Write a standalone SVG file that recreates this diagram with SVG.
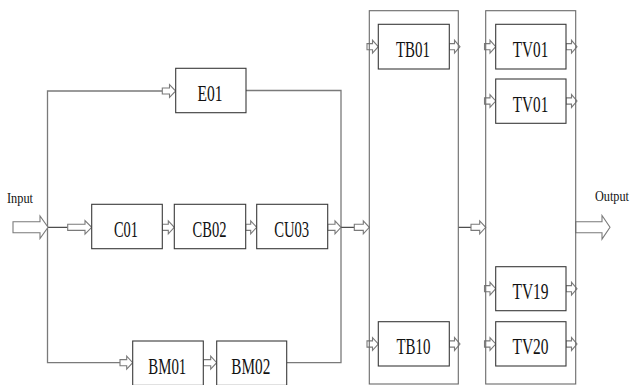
<svg xmlns="http://www.w3.org/2000/svg" width="633" height="385" viewBox="0 0 633 385">
<style>
.box{fill:#fff;stroke:#3a3a3a;stroke-width:1.1}
.cont{fill:none;stroke:#6a6a6a;stroke-width:1.1}
.lbl{font-family:"Liberation Serif","Times New Roman",serif;font-size:23px;fill:#111;text-anchor:middle}
.io{font-family:"Liberation Serif","Times New Roman",serif;font-size:14px;fill:#111}
.line{fill:none;stroke:#7a7a7a;stroke-width:1.3}
.dline{fill:none;stroke:#222;stroke-width:1}
.arr{fill:#fff;stroke:#7a7a7a;stroke-width:1.1;stroke-linejoin:miter}
</style>
<g id="connectors">
<path class="line" d="M162,91 H47.5 V362.7 H120"/>
<path class="line" d="M246,90.5 H341 V362.7 H286.7"/>
<path class="dline" d="M48,227.3 H67.7"/>
<path class="dline" d="M341,227.3 H354.3"/>
<path class="dline" d="M458.3,227.3 H471"/>
<path class="arr" d="M13,221.8 H40 V216 L48,227.3 L40,238.6 V232.8 H13 Z"/>
<path class="arr" d="M575.7,221.8 H602 V215.5 L610,227.3 L602,239.1 V232.8 H575.7 Z"/>
<path class="arr" d="M162.3,88 H169.5 V84.5 L175.7,91 L169.5,97.5 V94 H162.3 Z"/>
<path class="arr" d="M67.7,224.2 H85 V220.5 L91.7,227.3 L85,234.1 V230.4 H67.7 Z"/>
<path class="arr" d="M162.3,224.2 H168.3 V220.8 L174.3,227.3 L168.3,233.8 V230.4 H162.3 Z"/>
<path class="arr" d="M245.7,224.2 H250.7 V220.8 L256.7,227.3 L250.7,233.8 V230.4 H245.7 Z"/>
<path class="arr" d="M327.7,224.2 H335 V220.8 L341,227.3 L335,233.8 V230.4 H327.7 Z"/>
<path class="arr" d="M354.3,224.2 H363.3 V220.8 L369.3,227.3 L363.3,233.8 V230.4 H354.3 Z"/>
<path class="arr" d="M471,224.2 H479.7 V220.8 L485.7,227.3 L479.7,233.8 V230.4 H471 Z"/>
<path class="arr" d="M120,359.6 H126.7 V356.2 L132.7,362.7 L126.7,369.2 V365.8 H120 Z"/>
<path class="arr" d="M203.3,359.6 H210.7 V356.2 L216.7,362.7 L210.7,369.2 V365.8 H203.3 Z"/>
<path class="arr" d="M367,43.6 H372.5 V40.3 L378.3,46.7 L372.5,53.1 V49.8 H367 Z"/>
<path class="arr" d="M449.3,43.6 H454.5 V40.3 L460,46.7 L454.5,53.1 V49.8 H449.3 Z"/>
<path class="arr" d="M367,340.9 H372.5 V337.6 L378.3,344 L372.5,350.4 V347.1 H367 Z"/>
<path class="arr" d="M449.3,340.9 H454.5 V337.6 L460,344 L454.5,350.4 V347.1 H449.3 Z"/>
<path class="arr" d="M484.5,43.6 H490 V40.3 L495.7,46.7 L490,53.1 V49.8 H484.5 Z"/>
<path class="arr" d="M566,43.6 H571.5 V40.3 L577,46.7 L571.5,53.1 V49.8 H566 Z"/>
<path class="arr" d="M484.5,97.9 H490 V94.6 L495.7,101 L490,107.4 V104.1 H484.5 Z"/>
<path class="arr" d="M566,97.9 H571.5 V94.6 L577,101 L571.5,107.4 V104.1 H566 Z"/>
<path class="arr" d="M484.5,285.6 H490 V282.3 L495.7,288.7 L490,295.1 V291.8 H484.5 Z"/>
<path class="arr" d="M566,285.6 H571.5 V282.3 L577,288.7 L571.5,295.1 V291.8 H566 Z"/>
<path class="arr" d="M484.5,340.9 H490 V337.6 L495.7,344 L490,350.4 V347.1 H484.5 Z"/>
<path class="arr" d="M566,340.9 H571.5 V337.6 L577,344 L571.5,350.4 V347.1 H566 Z"/>
</g>
<g id="TBgroup"><rect class="cont" x="369.3" y="10.7" width="89" height="373.3"/></g>
<g id="TVgroup"><rect class="cont" x="485.7" y="10.7" width="90" height="373.3"/></g>
<g id="input"><text class="io" x="7" y="203" textLength="26" lengthAdjust="spacingAndGlyphs">Input</text></g>
<g id="output"><text class="io" x="595" y="200.5" font-size="13" textLength="34" lengthAdjust="spacingAndGlyphs">Output</text></g>
<g id="E01"><rect class="box" x="175.7" y="68.3" width="70.3" height="44.4"/><text class="lbl" x="210" y="101.3" textLength="25" lengthAdjust="spacingAndGlyphs">E01</text></g>
<g id="C01"><rect class="box" x="91.7" y="204.3" width="70.6" height="44.4"/><text class="lbl" x="126" y="237.3" textLength="24" lengthAdjust="spacingAndGlyphs">C01</text></g>
<g id="CB02"><rect class="box" x="174.3" y="204.3" width="71.4" height="44.4"/><text class="lbl" x="209.5" y="237.3" textLength="34" lengthAdjust="spacingAndGlyphs">CB02</text></g>
<g id="CU03"><rect class="box" x="256.7" y="204.3" width="71" height="44.4"/><text class="lbl" x="291.7" y="237.3" textLength="35" lengthAdjust="spacingAndGlyphs">CU03</text></g>
<g id="BM01"><rect class="box" x="132.7" y="341" width="70.6" height="44.4"/><text class="lbl" x="167.3" y="373.8" textLength="38" lengthAdjust="spacingAndGlyphs">BM01</text></g>
<g id="BM02"><rect class="box" x="216.7" y="341" width="70" height="44.4"/><text class="lbl" x="250.8" y="373.8" textLength="39" lengthAdjust="spacingAndGlyphs">BM02</text></g>
<g id="TB01"><rect class="box" x="378.3" y="24.3" width="71" height="44.7"/><text class="lbl" x="413" y="57" textLength="34" lengthAdjust="spacingAndGlyphs">TB01</text></g>
<g id="TB10"><rect class="box" x="378.3" y="321.7" width="71" height="44.3"/><text class="lbl" x="413.5" y="354.3" textLength="34" lengthAdjust="spacingAndGlyphs">TB10</text></g>
<g id="TV01a"><rect class="box" x="495.7" y="24.3" width="70.3" height="44.7"/><text class="lbl" x="530.5" y="57" textLength="35.5" lengthAdjust="spacingAndGlyphs">TV01</text></g>
<g id="TV01b"><rect class="box" x="495.7" y="79" width="70.3" height="44.3"/><text class="lbl" x="530.5" y="111.7" textLength="35.5" lengthAdjust="spacingAndGlyphs">TV01</text></g>
<g id="TV19"><rect class="box" x="495.7" y="266.7" width="70.3" height="44"/><text class="lbl" x="530.5" y="299.3" textLength="36" lengthAdjust="spacingAndGlyphs">TV19</text></g>
<g id="TV20"><rect class="box" x="495.7" y="321.7" width="70.3" height="44.3"/><text class="lbl" x="530.5" y="354.3" textLength="36" lengthAdjust="spacingAndGlyphs">TV20</text></g>
</svg>
